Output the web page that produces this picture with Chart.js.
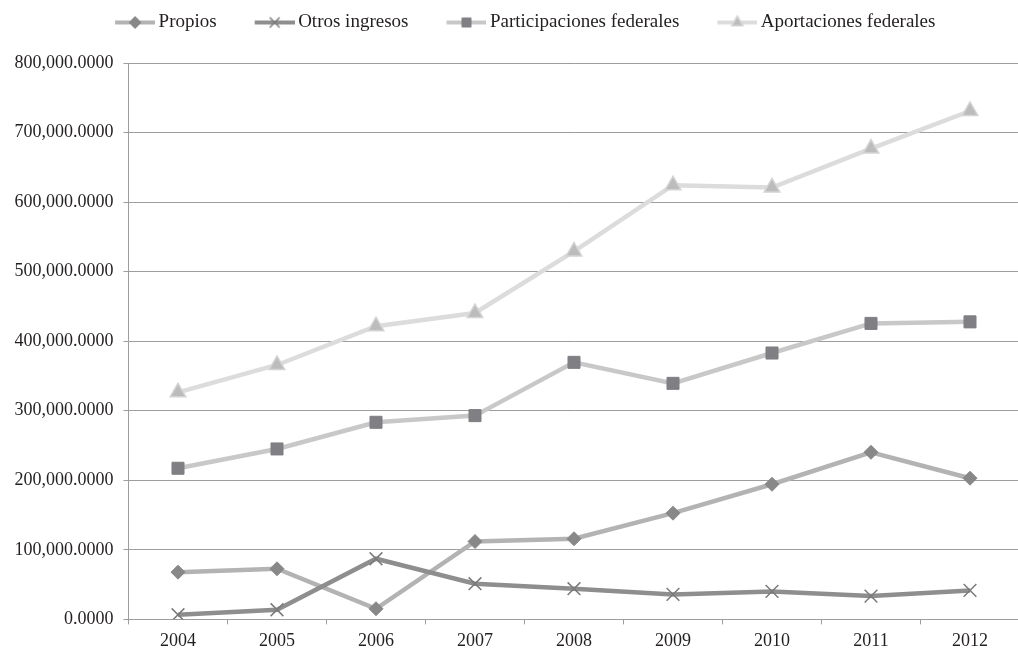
<!DOCTYPE html>
<html>
<head>
<meta charset="utf-8">
<script src="https://cdn.jsdelivr.net/npm/chart.js@4/dist/chart.umd.min.js"></script>
<style>
  html, body { margin: 0; padding: 0; background: #fff; overflow: hidden; }
  #wrap { position: absolute; left: 0; top: 0; width: 1030px; height: 658px; }
</style>
</head>
<body>
<div id="wrap"><canvas id="chart"></canvas></div>
<script>
// Años del periodo
const years = ['2004', '2005', '2006', '2007', '2008', '2009', '2010', '2011', '2012'];

// Ingresos por fuente
const propios         = [67900, 72800, 15300, 112000, 115900, 152700, 194300, 240300, 203000];
const otrosIngresos   = [6700, 13900, 87200, 51300, 44100, 35900, 40200, 33500, 41700];
const participaciones = [217300, 245100, 283400, 293000, 369600, 339400, 383000, 425600, 427800];
const aportaciones    = [326500, 365800, 421500, 440500, 529000, 624300, 621000, 677000, 731000];

const seriesNames = ['Propios', 'Otros ingresos', 'Participaciones federales', 'Aportaciones federales'];

// Escala vertical
const yMin = 0, yMax = 800000, yStep = 100000;

const FONT = '"Liberation Serif", "Times New Roman", serif';
const TEXT = '#231f20';
const GRID = '#9d9d9d';

// Estilos de cada serie: línea y marcador
const styles = [
  { line: '#b3b3b3', style: 'rectRot',  radius: 7,   fill: '#888888', border: '#888888', bw: 1,   legendR: 6 },
  { line: '#8e8e8e', style: 'crossRot', radius: 9,   fill: '#7a7a7a', border: '#7a7a7a', bw: 1.5, legendR: 7 },
  { line: '#c8c8c8', style: 'rect',     radius: 8.5, fill: '#7f7f84', border: '#7f7f84', bw: 1,   legendR: 6.4 },
  { line: '#dcdcdc', style: 'triangle', radius: 9,   fill: '#bcbcbc', border: '#d4d4d4', bw: 1.5, legendR: 6.5 }
];

// Muestra de leyenda: tramo de línea con su marcador al centro
function makeSwatch(s) {
  const c = document.createElement('canvas');
  c.width = 74; c.height = 18;
  const ctx = c.getContext('2d');
  ctx.strokeStyle = s.line;
  ctx.lineWidth = 4;
  ctx.beginPath();
  ctx.moveTo(34, 9);
  ctx.lineTo(74, 9);
  ctx.stroke();
  ctx.fillStyle = s.fill;
  ctx.strokeStyle = s.border;
  ctx.lineWidth = s.bw;
  Chart.helpers.drawPoint(ctx, { pointStyle: s.style, radius: s.legendR, rotation: 0, borderWidth: s.bw }, 54, 9);
  return c;
}
const swatches = styles.map(makeSwatch);

const values = [propios, otrosIngresos, participaciones, aportaciones];
const datasets = values.map((v, i) => ({
  label: seriesNames[i],
  data: v,
  borderColor: styles[i].line,
  borderWidth: 4.5,
  backgroundColor: styles[i].fill,
  tension: 0,
  fill: false,
  pointStyle: styles[i].style,
  pointRadius: styles[i].radius,
  pointBackgroundColor: styles[i].fill,
  pointBorderColor: styles[i].border,
  pointBorderWidth: styles[i].bw,
  order: values.length - i
}));

new Chart(document.getElementById('chart'), {
  type: 'line',
  data: { labels: years, datasets },
  options: {
    responsive: true,
    maintainAspectRatio: false,
    animation: false,
    layout: { padding: { top: 3, right: 7.5, bottom: 0, left: 0 } },
    plugins: {
      tooltip: { enabled: false },
      title: {
        display: true,
        text: '',
        font: { size: 1, lineHeight: 1 },
        padding: { top: 0, bottom: 20 }
      },
      legend: {
        position: 'top',
        weight: 3000,
        labels: {
          usePointStyle: true,
          pointStyleWidth: 62,
          padding: 10,
          color: TEXT,
          font: { family: FONT, size: 19 },
          generateLabels: (chart) => chart.data.datasets.map((ds, i) => ({
            text: ds.label,
            pointStyle: swatches[i],
            fillStyle: 'rgba(0,0,0,0)',
            strokeStyle: 'rgba(0,0,0,0)',
            lineWidth: 0,
            hidden: false,
            datasetIndex: i,
            fontColor: TEXT
          }))
        }
      }
    },
    scales: {
      x: {
        offset: true,
        grid: { offset: true, drawOnChartArea: false, drawTicks: true, tickLength: 5, color: GRID },
        border: { color: GRID, width: 1 },
        ticks: { color: TEXT, font: { family: FONT, size: 18 }, padding: 6, maxRotation: 0 }
      },
      y: {
        min: yMin,
        max: yMax,
        afterFit: (scale) => { scale.width = 128.5; },
        grid: { color: GRID, tickLength: 5, lineWidth: 1 },
        border: { color: GRID, width: 1 },
        ticks: {
          stepSize: yStep,
          color: TEXT,
          font: { family: FONT, size: 18 },
          padding: 10,
          callback: (v) => Number(v).toLocaleString('en-US', { minimumFractionDigits: 4, maximumFractionDigits: 4 })
        }
      }
    }
  }
});
</script>
</body>
</html>
